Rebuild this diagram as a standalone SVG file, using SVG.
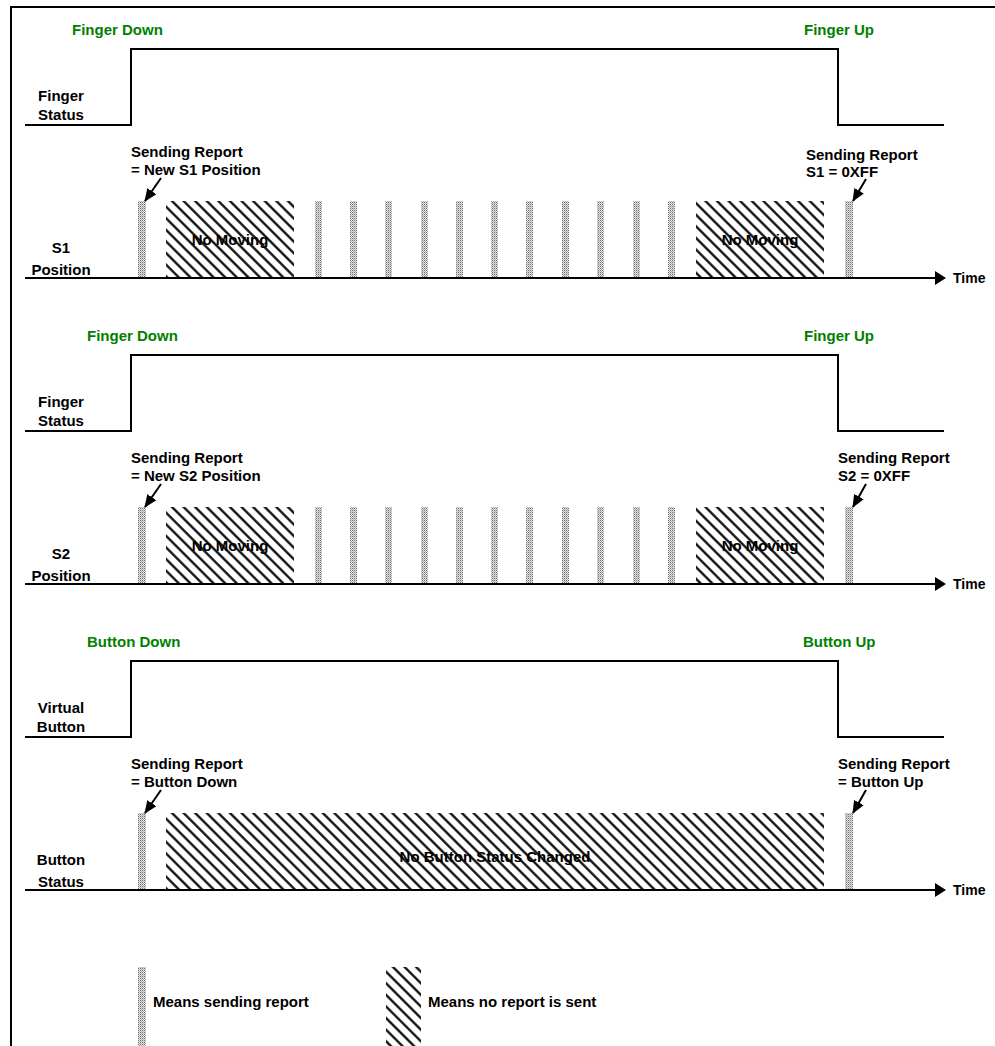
<svg xmlns="http://www.w3.org/2000/svg" width="995" height="1046" viewBox="0 0 995 1046">
  <style>
    text { font-family: "Liberation Sans", Arial, sans-serif; font-weight: bold; font-size: 15px; fill: #000; }
    .event { fill: #008000; }
    .mid { text-anchor: middle; }
    .time { font-size: 14px; }
    .sig { fill: none; stroke: #000; stroke-width: 2; }
    .axis { fill: none; stroke: #000; stroke-width: 2; marker-end: url(#axisHead); }
    .call { fill: none; stroke: #000; stroke-width: 2; marker-end: url(#callHead); }
    .rep { fill: url(#dots); }
    .idle { fill: url(#hatch); }
  </style>
  <defs>
    <!-- fine grey dot texture for "report sent" bars -->
    <pattern id="dots" patternUnits="userSpaceOnUse" width="2" height="2">
      <rect width="2" height="2" fill="#e4e4e4"/>
      <rect width="1" height="1" fill="#6e6e6e"/>
      <rect x="1" y="1" width="1" height="1" fill="#b0b0b0"/>
    </pattern>
    <!-- diagonal hatching for "no report" intervals -->
    <pattern id="hatch" patternUnits="userSpaceOnUse" width="8.2" height="8.2" patternTransform="rotate(45)">
      <rect width="8.2" height="8.2" fill="#fff"/>
      <line x1="0" y1="4.1" x2="8.2" y2="4.1" stroke="#000" stroke-width="2.2"/>
    </pattern>
    <marker id="axisHead" markerUnits="userSpaceOnUse" markerWidth="11" markerHeight="15" viewBox="0 -7 11 14" refX="0" refY="0" orient="auto">
      <path d="M0,-7 L11,0 L0,7 z" fill="#000"/>
    </marker>
    <marker id="callHead" markerUnits="userSpaceOnUse" markerWidth="13" markerHeight="12" viewBox="0 -5.5 13 11" refX="12" refY="0" orient="auto">
      <path d="M0,-5.5 L13,0 L0,5.5 z" fill="#000"/>
    </marker>
  </defs>

  <!-- page frame -->
  <path id="frame" d="M11,1046 V7 H995" fill="none" stroke="#000" stroke-width="2"/>

  <!-- S1 position panel -->
  <g id="panel-s1">
    <text class="event" x="72" y="35">Finger Down</text>
    <text class="event" x="804" y="35">Finger Up</text>
    <text class="mid" x="61" y="101">Finger</text>
    <text class="mid" x="61" y="120">Status</text>
    <text class="mid" x="61" y="253">S1</text>
    <text class="mid" x="61" y="275">Position</text>
    <text x="131" y="157">Sending Report</text>
    <text x="131" y="175">= New S1 Position</text>
    <text x="806" y="160">Sending Report</text>
    <text x="806" y="177">S1 = 0XFF</text>
    <rect class="rep" x="138" y="201" width="8" height="77"/>
    <rect class="idle" x="166" y="201" width="128" height="77"/>
    <rect class="rep" x="315" y="201" width="7" height="77"/>
    <rect class="rep" x="350" y="201" width="7" height="77"/>
    <rect class="rep" x="385" y="201" width="7" height="77"/>
    <rect class="rep" x="421" y="201" width="7" height="77"/>
    <rect class="rep" x="456" y="201" width="7" height="77"/>
    <rect class="rep" x="491" y="201" width="7" height="77"/>
    <rect class="rep" x="526" y="201" width="7" height="77"/>
    <rect class="rep" x="562" y="201" width="7" height="77"/>
    <rect class="rep" x="597" y="201" width="7" height="77"/>
    <rect class="rep" x="633" y="201" width="7" height="77"/>
    <rect class="rep" x="668" y="201" width="7" height="77"/>
    <rect class="idle" x="696" y="201" width="128" height="77"/>
    <rect class="rep" x="845" y="201" width="8" height="77"/>
    <text class="mid" x="230" y="245">No Moving</text>
    <text class="mid" x="760" y="245">No Moving</text>
    <text class="time" x="953" y="283">Time</text>
  </g>

  <!-- S2 position panel -->
  <g id="panel-s2" transform="translate(0,306)">
    <text class="event" x="87" y="35">Finger Down</text>
    <text class="event" x="804" y="35">Finger Up</text>
    <text class="mid" x="61" y="101">Finger</text>
    <text class="mid" x="61" y="120">Status</text>
    <text class="mid" x="61" y="253">S2</text>
    <text class="mid" x="61" y="275">Position</text>
    <text x="131" y="157">Sending Report</text>
    <text x="131" y="175">= New S2 Position</text>
    <text x="838" y="157">Sending Report</text>
    <text x="838" y="175">S2 = 0XFF</text>
    <rect class="rep" x="138" y="201" width="8" height="77"/>
    <rect class="idle" x="166" y="201" width="128" height="77"/>
    <rect class="rep" x="315" y="201" width="7" height="77"/>
    <rect class="rep" x="350" y="201" width="7" height="77"/>
    <rect class="rep" x="385" y="201" width="7" height="77"/>
    <rect class="rep" x="421" y="201" width="7" height="77"/>
    <rect class="rep" x="456" y="201" width="7" height="77"/>
    <rect class="rep" x="491" y="201" width="7" height="77"/>
    <rect class="rep" x="526" y="201" width="7" height="77"/>
    <rect class="rep" x="562" y="201" width="7" height="77"/>
    <rect class="rep" x="597" y="201" width="7" height="77"/>
    <rect class="rep" x="633" y="201" width="7" height="77"/>
    <rect class="rep" x="668" y="201" width="7" height="77"/>
    <rect class="idle" x="696" y="201" width="128" height="77"/>
    <rect class="rep" x="845" y="201" width="8" height="77"/>
    <text class="mid" x="230" y="245">No Moving</text>
    <text class="mid" x="760" y="245">No Moving</text>
    <text class="time" x="953" y="283">Time</text>
  </g>

  <!-- virtual button panel -->
  <g id="panel-button" transform="translate(0,612)">
    <text class="event" x="87" y="35">Button Down</text>
    <text class="event" x="803" y="35">Button Up</text>
    <text class="mid" x="61" y="101">Virtual</text>
    <text class="mid" x="61" y="120">Button</text>
    <text class="mid" x="61" y="253">Button</text>
    <text class="mid" x="61" y="275">Status</text>
    <text x="131" y="157">Sending Report</text>
    <text x="131" y="175">= Button Down</text>
    <text x="838" y="157">Sending Report</text>
    <text x="838" y="175">= Button Up</text>
    <rect class="rep" x="138" y="201" width="8" height="77"/>
    <rect class="idle" x="166" y="201" width="658" height="77"/>
    <rect class="rep" x="845" y="201" width="8" height="77"/>
    <text class="mid" x="495" y="250">No Button Status Changed</text>
    <text class="time" x="953" y="283">Time</text>
  </g>

  <!-- signal traces, axes and callout arrows -->
  <g id="connectors">
    <path class="sig" d="M25,125 H131 V49 H838 V125 H944"/>
    <path class="sig" d="M25,431 H131 V355 H838 V431 H944"/>
    <path class="sig" d="M25,737 H131 V661 H838 V737 H944"/>
    <path class="axis" d="M25,278 H935"/>
    <path class="axis" d="M25,584 H935"/>
    <path class="axis" d="M25,890 H935"/>
    <path class="call" d="M161,178 L145,201"/>
    <path class="call" d="M866,179 L853,201"/>
    <path class="call" d="M161,484 L145,507"/>
    <path class="call" d="M866,484 L853,507"/>
    <path class="call" d="M161,790 L145,813"/>
    <path class="call" d="M866,790 L853,813"/>
  </g>

  <!-- legend -->
  <g id="legend">
    <rect class="rep" x="138" y="967" width="8" height="79"/>
    <text x="153" y="1007">Means sending report</text>
    <rect class="idle" x="386" y="967" width="35" height="79"/>
    <text x="428" y="1007">Means no report is sent</text>
  </g>
</svg>
